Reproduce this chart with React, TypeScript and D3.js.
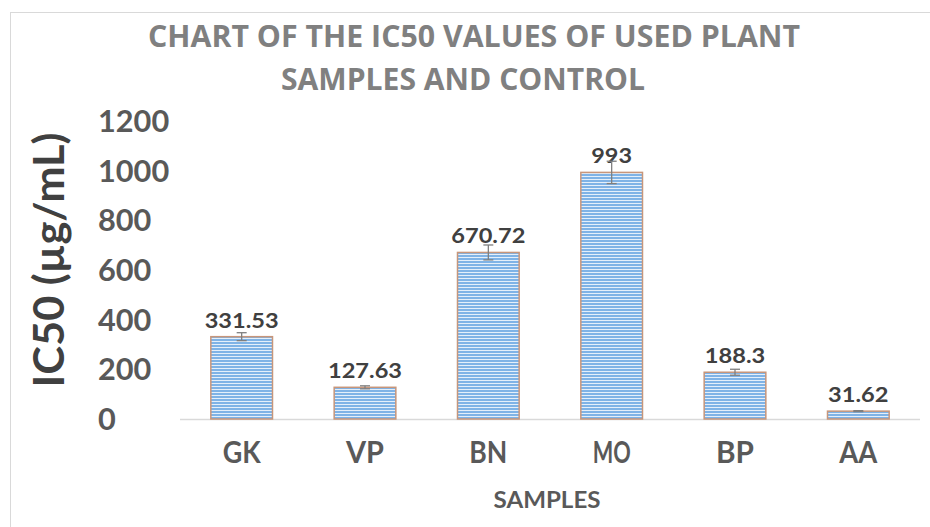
import React from "react";
import * as d3 from "d3";

const categories = ["GK", "VP", "BN", "MO", "BP", "AA"];
const values = [331.53, 127.63, 670.72, 993, 188.3, 31.62];
const errors = [16, 6, 30, 45, 12, 2];
const valueLabels = ["331.53", "127.63", "670.72", "993", "188.3", "31.62"];
const yTicks = [0, 200, 400, 600, 800, 1000, 1200];
const titleLines = ["CHART OF THE IC50 VALUES OF USED PLANT", "SAMPLES AND CONTROL"];
const yTitle = "IC50 (µg/mL)";
const xTitle = "SAMPLES";

const W = 930;
const H = 527;
const FONT = "Lato, 'Open Sans', 'Liberation Sans', sans-serif";

export default function App() {
  const x = d3.scaleBand<string>().domain(categories).range([180, 920]).paddingInner(0.5).paddingOuter(0.25);
  const y = d3.scaleLinear().domain([0, 1200]).range([419, 121]);
  const bw = x.bandwidth();

  const labelWidth = (s: string) => s.replace(".", "").length * 13.6 + (s.includes(".") ? 6 : 0);

  return (
    <svg width={W} height={H} style={{ position: "absolute", left: 0, top: 0, background: "#fff" }} fontFamily={FONT}>
      <defs>
        <pattern id="stripes" patternUnits="userSpaceOnUse" width={6} height={3}>
          <rect x={0} y={0} width={6} height={3} fill="#7fb3e6" />
          <rect x={0} y={2} width={6} height={1} fill="#e4effa" />
        </pattern>
      </defs>
      <rect x={10.5} y={12.5} width={W + 20} height={H + 20} fill="none" stroke="#d9d9d9" strokeWidth={1} />

      {/* Title */}
      <text x={474} y={47} textAnchor="middle" fontSize={31} fontWeight={700} fill="#808080"
        fontFamily="'Liberation Sans Narrow', 'Open Sans', sans-serif"
        textLength={652} lengthAdjust="spacingAndGlyphs">{titleLines[0]}</text>
      <text x={463} y={90} textAnchor="middle" fontSize={31} fontWeight={700} fill="#808080"
        fontFamily="'Liberation Sans Narrow', 'Open Sans', sans-serif"
        textLength={364} lengthAdjust="spacingAndGlyphs">{titleLines[1]}</text>

      {/* Y axis ticks */}
      {yTicks.map((t) => {
        const s = String(t);
        return (
          <text key={t} x={98} y={y(t) + 11} fontSize={30} fontWeight={700} fill="#595959"
            textLength={s.length * 17.8} lengthAdjust="spacingAndGlyphs">{s}</text>
        );
      })}

      {/* Y title */}
      <text transform={`translate(64,260) rotate(-90)`} textAnchor="middle" fontSize={42} fontWeight={700}
        fill="#404040" textLength={255} lengthAdjust="spacingAndGlyphs">{yTitle}</text>

      {/* baseline */}
      <line x1={180} x2={920} y1={y(0) + 0.5} y2={y(0) + 0.5} stroke="#d9d9d9" strokeWidth={1.5} />

      {/* bars */}
      {categories.map((c, i) => {
        const x0 = x(c) as number;
        const yt = y(values[i]);
        return (
          <rect key={c} x={x0} y={yt} width={bw} height={y(0) - yt} fill="url(#stripes)"
            stroke="#c8967a" strokeWidth={1.5} />
        );
      })}

      {/* data labels */}
      {categories.map((c, i) => {
        const cx = (x(c) as number) + bw / 2;
        const s = valueLabels[i];
        return (
          <text key={c} x={cx} y={y(values[i]) - 9} textAnchor="middle" fontSize={21} fontWeight={700}
            fill="#404040" textLength={labelWidth(s)} lengthAdjust="spacingAndGlyphs">{s}</text>
        );
      })}

      {/* error bars */}
      {categories.map((c, i) => {
        const cx = (x(c) as number) + bw / 2;
        const y1 = y(values[i] + errors[i]);
        const y2 = y(values[i] - errors[i]);
        return (
          <g key={c} stroke="#7f7f7f" strokeWidth={1.3}>
            <line x1={cx} x2={cx} y1={y1} y2={y2} />
            <line x1={cx - 5} x2={cx + 5} y1={y1} y2={y1} />
            <line x1={cx - 5} x2={cx + 5} y1={y2} y2={y2} />
          </g>
        );
      })}

      {/* x labels */}
      {categories.map((c) => (
        <text key={c} x={(x(c) as number) + bw / 2} y={463} textAnchor="middle" fontSize={30} fontWeight={700}
          fill="#595959" textLength={38} lengthAdjust="spacingAndGlyphs">{c}</text>
      ))}

      {/* x title */}
      <text x={547} y={508} textAnchor="middle" fontSize={23} fontWeight={700} fill="#595959"
        textLength={107} lengthAdjust="spacingAndGlyphs">{xTitle}</text>
    </svg>
  );
}
